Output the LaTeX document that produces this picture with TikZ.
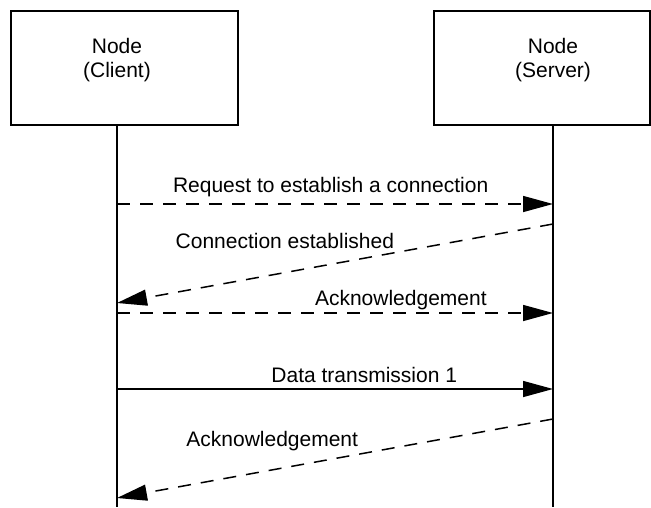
\documentclass[tikz,border=0pt]{standalone}
\usepackage{fontspec}
\setmainfont{Liberation Sans}
\usetikzlibrary{
	arrows.meta,
	positioning,
	calc
}

\begin{document}
\begin{tikzpicture}[
		x=1pt, y=-1pt,
		headbox/.style={draw, line width=2pt, minimum width=227pt, minimum height=114pt, inner sep=0pt},
		headtext/.style={align=center, font=\fontsize{21}{24}\selectfont},
		lifeline/.style={line width=1.5pt},
		msg/.style={-{Triangle[length=30pt,width=16pt]}, line width=1.5pt},
		dashmsg/.style={msg, dash pattern=on 13pt off 10pt},
		lbl/.style={anchor=base, font=\fontsize{21}{24}\selectfont, inner sep=0pt}
		]
		\useasboundingbox (0,0) rectangle (651,507);
		
		% Nodes
		\node[headbox] (clientbox) at (124.5,68) {};
		\node[headbox, minimum width=216pt] (serverbox) at (542,68) {};
		\node[headtext] (client) at (117,60) {Node\\(Client)};
		\node[headtext] (server) at (553,60) {Node\\(Server)};
		\coordinate (clientend) at (117,507);
		\coordinate (serverend) at (553,507);
		
		% Lifelines
		\draw[lifeline] (client |- clientbox.south) -- (clientend);
		\draw[lifeline] (server |- serverbox.south) -- (serverend);
		
		% Arrows
		\draw[dashmsg] (client |- 0,204) -- node[lbl, pos=0.49, yshift=12pt]{Request to establish a connection} (server |- 0,204);
		\draw[dashmsg] (server |- 0,224) -- node[lbl, pos=0.615, yshift=24.5pt]{Connection established} (client |- 0,303);
		\draw[dashmsg] (client |- 0,313) -- node[lbl, pos=0.651, yshift=8pt]{Acknowledgement} (server |- 0,313);
		\draw[msg] (client |- 0,389) -- node[lbl, pos=0.567, yshift=7pt]{Data transmission 1} (server |- 0,389);
		\draw[dashmsg] (server |- 0,419) -- node[lbl, pos=0.644, yshift=23pt]{Acknowledgement} (client |- 0,498);
		
	\end{tikzpicture}
\end{document}
